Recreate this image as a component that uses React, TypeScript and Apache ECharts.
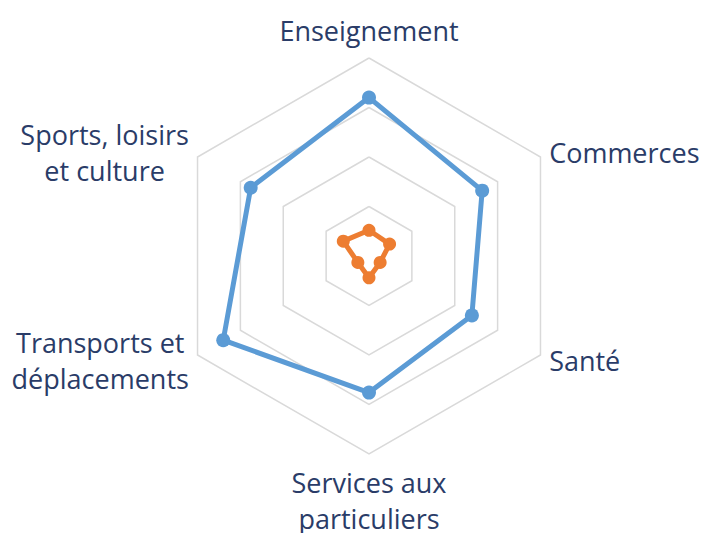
import React, { useEffect, useRef } from "react";
import * as echarts from "echarts";

// Categories in clockwise order starting from the top
const categories: string[] = [
  "Enseignement",
  "Commerces",
  "Santé",
  "Services aux\nparticuliers",
  "Transports et\ndéplacements",
  "Sports, loisirs\net culture",
];

const seriesA: number[] = [80, 66, 60, 69, 85, 69];
const seriesB: number[] = [13, 12, 6.5, 11, 6.5, 15];
const maxValue = 100;

// ECharts places indicators counter-clockwise; reorder to get clockwise layout
const order: number[] = [0, ...categories.slice(1).map((_, i) => categories.length - 1 - i)];

export default function App() {
  const ref = useRef<HTMLDivElement>(null);

  useEffect(() => {
    if (!ref.current) return;
    const chart = echarts.init(ref.current, null, { renderer: "svg" });
    const indicator = order.map((i) => ({ name: categories[i], max: maxValue, min: 0 }));
    const pick = (arr: number[]) => order.map((i) => arr[i]);
    chart.setOption({
      animation: false,
      radar: {
        center: [369, 256],
        radius: 198,
        startAngle: 90,
        splitNumber: 4,
        shape: "polygon",
        indicator,
        axisNameGap: 10,
        axisName: {
          color: "#2A3C68",
          fontFamily: "Open Sans",
          fontSize: 27,
          lineHeight: 36,
          formatter: (name: string) =>
            name
              .split("\n")
              .map((l) => `{c|${l}}`)
              .join("\n"),
          rich: {
            c: {
              align: "center",
              color: "#2A3C68",
              fontFamily: "Open Sans",
              fontSize: 27,
              lineHeight: 36,
            },
          },
        },
        axisLine: { show: false },
        axisTick: { show: false },
        axisLabel: { show: false },
        splitArea: { show: false },
        splitLine: { lineStyle: { color: "#D9D9D9", width: 1.5 } },
      },
      series: [
        {
          type: "radar",
          z: 2,
          data: [
            {
              value: pick(seriesA),
              name: "A",
              symbol: "circle",
              symbolSize: 14,
              lineStyle: { color: "#5B9BD5", width: 5 },
              itemStyle: { color: "#5B9BD5" },
            },
            {
              value: pick(seriesB),
              name: "B",
              symbol: "circle",
              symbolSize: 13,
              lineStyle: { color: "#ED7D31", width: 5 },
              itemStyle: { color: "#ED7D31" },
            },
          ],
        },
      ],
    });
    return () => chart.dispose();
  }, []);

  return (
    <div
      ref={ref}
      style={{ position: "fixed", left: 0, top: 0, width: 704, height: 533, background: "#fff" }}
    />
  );
}
